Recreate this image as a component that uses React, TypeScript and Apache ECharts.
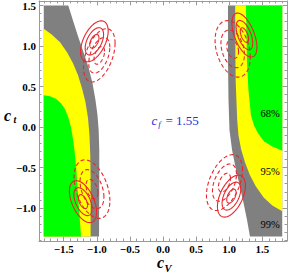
import React, { useEffect, useRef } from "react";
import * as echarts from "echarts";

const FONT = '"Liberation Serif", "Times New Roman", serif';

// axis frame ranges (c_V horizontal, c_t vertical)
const xRange = [-1.872, 1.872];
const yRange = [-1.407, 1.557];
const xMajorTicks = [-1.5, -1.0, -0.5, 0.0, 0.5, 1.0, 1.5];
const yMajorTicks = [-1.0, -0.5, 0.0, 0.5, 1.0, 1.5];
const xMinorTicks = [-1.8, -1.7, -1.6, -1.4, -1.3, -1.2, -1.1, -0.9, -0.8, -0.7, -0.6, -0.4, -0.3, -0.2, -0.1, 0.1, 0.2, 0.3, 0.4, 0.6, 0.7, 0.8, 0.9, 1.1, 1.2, 1.3, 1.4, 1.6, 1.7, 1.8];
const yMinorTicks = [-1.4, -1.3, -1.2, -1.1, -0.9, -0.8, -0.7, -0.6, -0.4, -0.3, -0.2, -0.1, 0.1, 0.2, 0.3, 0.4, 0.6, 0.7, 0.8, 0.9, 1.1, 1.2, 1.3, 1.4];

// extent of the shaded scan
const cvMin = -1.8;
const cvMax = 1.8;
const ctMin = -1.35;
const ctMax = 1.5;

// region boundaries, [cV, ct], top to bottom
const leftGrayEdge = [[-1.430, 1.5], [-1.359, 1.316], [-1.283, 1.119], [-1.200, 0.922], [-1.125, 0.737], [-1.064, 0.540], [-1.019, 0.330], [-0.989, 0.145], [-0.971, -0.039], [-0.962, -0.286], [-0.962, -0.656], [-0.966, -1.35]];
const leftYellowEdge = [[-1.8, 1.214], [-1.676, 1.138], [-1.555, 1.045], [-1.449, 0.922], [-1.359, 0.786], [-1.283, 0.638], [-1.223, 0.478], [-1.170, 0.306], [-1.132, 0.108], [-1.110, -0.101], [-1.098, -0.348], [-1.093, -0.656], [-1.093, -1.35]];
const leftGreenEdge = [[-1.8, 0.392], [-1.706, 0.380], [-1.615, 0.349], [-1.540, 0.293], [-1.479, 0.219], [-1.430, 0.121], [-1.389, -0.002], [-1.359, -0.150], [-1.333, -0.311], [-1.310, -0.508], [-1.288, -0.779], [-1.264, -1.050], [-1.238, -1.35]];
const rightGrayEdge = [[0.981, 1.5], [0.981, 0.823], [0.989, 0.330], [1.004, -0.039], [1.042, -0.281], [1.102, -0.528], [1.155, -0.712], [1.215, -0.934], [1.268, -1.144], [1.313, -1.35]];
const rightYellowEdge = [[1.09, 1.5], [1.093, 0.856], [1.098, 0.548], [1.11, 0.301], [1.12, 0.09], [1.14, -0.106], [1.18, -0.278], [1.24, -0.44], [1.31, -0.59], [1.40, -0.73], [1.52, -0.87], [1.65, -0.97], [1.8, -1.04]];
const rightGreenEdge = [[1.252, 1.5], [1.267, 0.824], [1.290, 0.454], [1.328, 0.145], [1.373, 0.021], [1.434, -0.077], [1.524, -0.176], [1.645, -0.238], [1.8, -0.293]];

const levelNames = ["99%", "95%", "68%"];
const levelColors = ["#808080", "#ffff00", "#00ff00"];

// fit ellipses: centres [cV, ct], sigmas [sV, st], correlation
const solidCenters = [[-1.036, 1.058], [1.229, 1.135], [-1.208, -0.921], [1.033, -0.853]];
const solidSigmas = [[0.0695, 0.0843], [0.0629, 0.0904], [0.0684, 0.0863], [0.0704, 0.0863]];
const solidRho = [0.5, -0.55, -0.5, 0.5];
const dashedCenters = [[-0.962, 0.885], [1.052, 0.965], [-1.072, -0.767], [0.928, -0.686]];
const dashedSigmas = [[0.0795, 0.1097], [0.0886, 0.1163], [0.0901, 0.1204], [0.0906, 0.115]];
const dashedRho = [0.45, -0.3, -0.4, 0.45];
const contourLevels = [1, 2, 3];

const cfLabel = "1.55";

const regions = [
  { level: 0, points: [[cvMin, ctMax], ...leftGrayEdge, [cvMin, ctMin]] },
  { level: 1, points: [...leftYellowEdge, [cvMin, ctMin]] },
  { level: 2, points: [...leftGreenEdge, [cvMin, ctMin]] },
  { level: 0, points: [...rightGrayEdge, [cvMax, ctMin], [cvMax, ctMax]] },
  { level: 1, points: [...rightYellowEdge, [cvMax, ctMax]] },
  { level: 2, points: [...rightGreenEdge, [cvMax, ctMax]] },
];

const ellipses: { c: number[]; s: number[]; r: number; k: number; dashed: boolean }[] = [];
solidCenters.forEach((c, i) => contourLevels.forEach((k) => ellipses.push({ c, s: solidSigmas[i], r: solidRho[i], k, dashed: false })));
dashedCenters.forEach((c, i) => contourLevels.forEach((k) => ellipses.push({ c, s: dashedSigmas[i], r: dashedRho[i], k, dashed: true })));

function fmt(v: number) {
  const s = Math.abs(v).toFixed(1);
  return v < -1e-9 ? "\u2212" + s : s;
}

const FRAME = "#9a9a9a";
const RED = "#e8262b";

export default function App() {
  const ref = useRef<HTMLDivElement>(null);
  useEffect(() => {
    const chart = echarts.init(ref.current!, null, { renderer: "svg" });
    const labelStyle = { fontFamily: FONT, fontWeight: "bold" as const, fontSize: 11, color: "#000" };
    const mkX = (position: string, ticks: number[], len: number, line: boolean, label: boolean) => ({
      type: "value",
      position,
      min: xRange[0],
      max: xRange[1],
      axisLine: { show: line, onZero: false, lineStyle: { color: FRAME, width: 1 } },
      axisTick: { show: true, inside: true, length: len, customValues: ticks, lineStyle: { color: FRAME, width: 1 } },
      axisLabel: { show: label, customValues: ticks, formatter: fmt, margin: 2, ...labelStyle },
      splitLine: { show: false },
    });
    const mkY = (position: string, ticks: number[], len: number, line: boolean, label: boolean) => ({
      type: "value",
      position,
      min: yRange[0],
      max: yRange[1],
      axisLine: { show: line, onZero: false, lineStyle: { color: FRAME, width: 1 } },
      axisTick: { show: true, inside: true, length: len, customValues: ticks, lineStyle: { color: FRAME, width: 1 } },
      axisLabel: { show: label, customValues: ticks, formatter: fmt, margin: 3, ...labelStyle },
      splitLine: { show: false },
    });

    chart.setOption({
      animation: false,
      backgroundColor: "#ffffff",
      grid: { left: 39, right: 1, top: 0.5, bottom: 32, containLabel: false },
      xAxis: [
        mkX("bottom", xMajorTicks, 4.5, true, true),
        mkX("bottom", xMinorTicks, 2.5, false, false),
        mkX("top", xMajorTicks, 4.5, true, false),
        mkX("top", xMinorTicks, 2.5, false, false),
      ],
      yAxis: [
        mkY("left", yMajorTicks, 4.5, true, true),
        mkY("left", yMinorTicks, 2.5, false, false),
        mkY("right", yMajorTicks, 4.5, true, false),
        mkY("right", yMinorTicks, 2.5, false, false),
      ],
      series: [
        {
          type: "custom",
          name: "regions",
          xAxisIndex: 0,
          yAxisIndex: 0,
          silent: true,
          z: 1,
          data: regions.map((r, i) => [i, r.level]),
          renderItem: (params: any, api: any) => {
            const r = regions[params.dataIndex];
            return {
              type: "polygon",
              shape: { points: r.points.map((p) => api.coord(p)) },
              style: { fill: levelColors[r.level], stroke: null },
            };
          },
        },
        {
          type: "custom",
          name: "fits",
          xAxisIndex: 0,
          yAxisIndex: 0,
          silent: true,
          z: 3,
          data: ellipses.map((e, i) => [e.c[0], e.c[1], i]),
          renderItem: (params: any, api: any) => {
            const e = ellipses[params.dataIndex];
            const pts: number[][] = [];
            const q = Math.sqrt(1 - e.r * e.r);
            for (let j = 0; j <= 96; j++) {
              const t = (j / 96) * Math.PI * 2;
              const x = e.c[0] + e.k * e.s[0] * Math.cos(t);
              const y = e.c[1] + e.k * e.s[1] * (e.r * Math.cos(t) + q * Math.sin(t));
              pts.push(api.coord([x, y]));
            }
            return {
              type: "polyline",
              shape: { points: pts },
              style: {
                fill: null,
                stroke: RED,
                lineWidth: 1.1,
                lineDash: e.dashed ? [4, 2.5] : null,
              },
            };
          },
        },
      ],
      graphic: [
        // c_t axis title
        { type: "text", z: 100, left: 4, top: 107, style: { text: "c", font: `italic bold 16px ${FONT}`, fill: "#000" } },
        { type: "text", z: 100, left: 13.5, top: 114, style: { text: "t", font: `italic bold 10px ${FONT}`, fill: "#000" } },
        // c_V axis title
        { type: "text", z: 100, left: 157, top: 254.5, style: { text: "c", font: `italic bold 16px ${FONT}`, fill: "#000" } },
        { type: "text", z: 100, left: 164.5, top: 262.5, style: { text: "V", font: `italic bold 10.5px ${FONT}`, fill: "#000" } },
        // c_f annotation
        { type: "text", z: 100, left: 151.5, top: 113.5, style: { text: "c", font: `italic 13px ${FONT}`, fill: "#2b2bdc" } },
        { type: "text", z: 100, left: 158.3, top: 119, style: { text: "f", font: `italic 9px ${FONT}`, fill: "#2b2bdc" } },
        { type: "text", z: 100, left: 165.5, top: 113.5, style: { text: "= " + cfLabel, font: `13px ${FONT}`, fill: "#2b2bdc" } },
        // level labels
        { type: "text", z: 100, left: 260.5, top: 108, style: { text: levelNames[2], font: `10.5px ${FONT}`, fill: "#000" } },
        { type: "text", z: 100, left: 260.5, top: 165.5, style: { text: levelNames[1], font: `10.5px ${FONT}`, fill: "#000" } },
        { type: "text", z: 100, left: 260.5, top: 218.5, style: { text: levelNames[0], font: `10.5px ${FONT}`, fill: "#000" } },
      ],
    });
    return () => chart.dispose();
  }, []);
  return (
    <div
      ref={ref}
      style={{ position: "absolute", left: 0, top: 0, width: 288, height: 273, background: "#fff" }}
    />
  );
}
